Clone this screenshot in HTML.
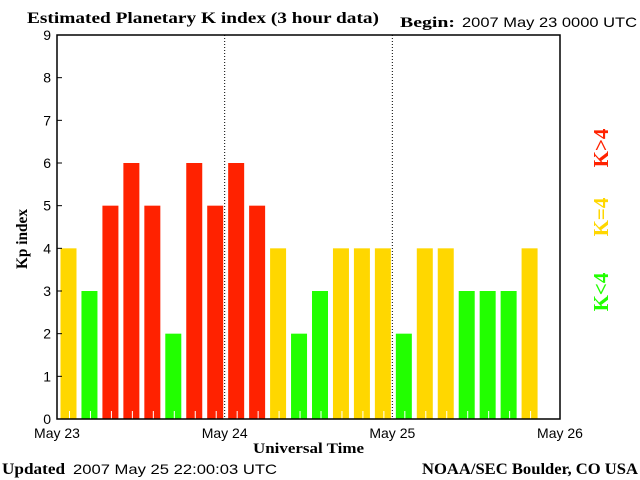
<!DOCTYPE html>
<html><head><meta charset="utf-8"><style>
body{margin:0;background:#fff}
svg{display:block}
.s{font-family:"Liberation Sans",sans-serif;font-size:14px}
.b{font-family:"Liberation Serif",serif;font-weight:bold}
</style></head><body>
<svg id="c" width="640" height="480">
<text class="b" x="27" y="23" font-size="16" textLength="352" lengthAdjust="spacingAndGlyphs">Estimated Planetary K index (3 hour data)</text>
<text class="b" x="400" y="27" font-size="15" textLength="55" lengthAdjust="spacingAndGlyphs">Begin:</text>
<text class="s" x="462" y="27" textLength="175" lengthAdjust="spacingAndGlyphs">2007 May 23 0000 UTC</text>
<text class="b" x="27" y="239" font-size="16" transform="rotate(-90 27 239)" text-anchor="middle" textLength="60" lengthAdjust="spacingAndGlyphs">Kp index</text>
<text class="b" x="253" y="453" font-size="15" textLength="111" lengthAdjust="spacingAndGlyphs">Universal Time</text>
<text class="b" x="2" y="474" font-size="16" textLength="63" lengthAdjust="spacingAndGlyphs">Updated</text>
<text class="s" x="73" y="474" font-size="15" textLength="204" lengthAdjust="spacingAndGlyphs">2007 May 25 22:00:03 UTC</text>
<text class="b" x="422" y="474" font-size="16" textLength="216" lengthAdjust="spacingAndGlyphs">NOAA/SEC Boulder, CO USA</text>
<g class="b" font-size="21">
<text x="608" y="148" transform="rotate(-90 608 148)" text-anchor="middle" fill="#ff2200">K&gt;4</text>
<text x="608" y="217" transform="rotate(-90 608 217)" text-anchor="middle" fill="#ffd700">K=4</text>
<text x="608" y="292" transform="rotate(-90 608 292)" text-anchor="middle" fill="#22ff00">K&lt;4</text>
</g>
<g id="plot"></g>
</svg>
<script>
const kpValues=[4,3,5,6,5,2,6,5,6,5,4,2,3,4,4,4,2,4,4,3,3,3,4];
const yTicks=[0,1,2,3,4,5,6,7,8,9];
const dayLabels=["May 23","May 24","May 25","May 26"];
const L=57,R=560,T=35,B=419,NS=24;
const sx=i=>L+i*(R-L)/NS;
const sy=v=>B-v*(B-T)/9;
const g=document.getElementById('plot');
const ns="http://www.w3.org/2000/svg";
function mk(t,a){const e=document.createElementNS(ns,t);for(const k in a)e.setAttribute(k,a[k]);g.appendChild(e);return e;}
kpValues.forEach((v,i)=>{
  const col=v>4?"#ff2200":v==4?"#ffd700":"#22ff00";
  const r=mk('rect',{x:sx(i)+3.5,y:sy(v),width:16,height:B-sy(v),fill:col});
  
  
  const t=mk('line',{x1:sx(i)+12.5,x2:sx(i)+12.5,y1:B-8,y2:B,stroke:'#fff','stroke-width':1});
  
  
});
[1,2].forEach(d=>{
  const l=mk('line',{x1:sx(d*8),x2:sx(d*8),y1:T,y2:B,stroke:'#000','stroke-dasharray':'1,2'});
  
  
});
const ax=mk('rect',{x:L,y:T,width:R-L,height:B-T,fill:'none',stroke:'#000','stroke-width':1.5});


yTicks.forEach(v=>{
  const l=mk('line',{x1:L,x2:L+5,y1:sy(v),y2:sy(v),stroke:'#000'});
  
  
  const t=mk('text',{x:L-6,y:sy(v)+5,'text-anchor':'end',class:'s'});
  t.textContent=v;
  
  
});
dayLabels.forEach((d,i)=>{
  const t=mk('text',{x:sx(i*8),y:438,'text-anchor':'middle',class:'s'});
  t.textContent=d;
  
  
});
</script>
</body></html>
